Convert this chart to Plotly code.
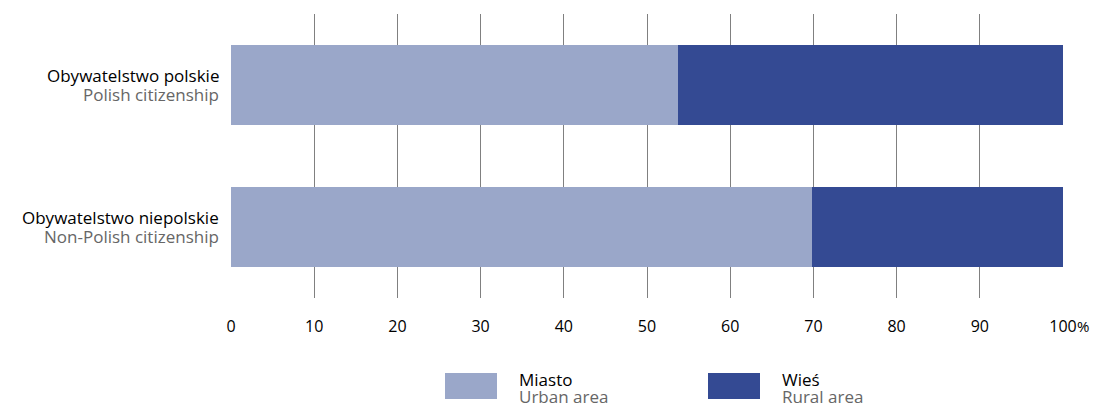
import plotly.graph_objects as go

categories_pl = ["Obywatelstwo polskie", "Obywatelstwo niepolskie"]
categories_en = ["Polish citizenship", "Non-Polish citizenship"]
urban = [53.7, 69.8]
rural = [46.3, 30.2]
series_pl = ["Miasto", "Wieś"]
series_en = ["Urban area", "Rural area"]
colors = ["#9aa7c9", "#344a93"]
x_ticks = [0, 10, 20, 30, 40, 50, 60, 70, 80, 90, 100]
x_ticktext = [str(t) for t in x_ticks]
unit = "%"

FONT = "Open Sans, Noto Sans, sans-serif"
FS = 17
GREY = "#666666"

fig = go.Figure()
for vals, name, col in zip([urban, rural], series_pl, colors):
    fig.add_trace(go.Bar(
        y=categories_pl, x=vals, orientation="h", name=name,
        marker=dict(color=col, line=dict(width=0)),
        width=0.57, showlegend=False, hoverinfo="x+name"))

# page body has an 8px offset; compensate in margins
fig.update_layout(
    barmode="stack",
    width=1098, height=403,
    margin=dict(l=223, r=43, t=6, b=113),
    paper_bgcolor="white", plot_bgcolor="white",
    font=dict(family=FONT, size=FS, color="#000000"),
    xaxis=dict(range=[0, 100], tickvals=x_ticks, ticktext=x_ticktext,
               showgrid=True, gridcolor="#808080", gridwidth=1,
               zeroline=False, showline=False, ticks="",
               ticklabelstandoff=17,
               tickfont=dict(family=FONT, size=16, color="#000000")),
    yaxis=dict(autorange="reversed", showgrid=False, zeroline=False,
               showline=False, ticks="", showticklabels=False),
)

# bilingual category labels
for pl, en in zip(categories_pl, categories_en):
    fig.add_annotation(xref="paper", yref="y", x=0, y=pl, xshift=-10, yshift=9.5,
                       xanchor="right", yanchor="middle", showarrow=False,
                       text=pl, font=dict(family=FONT, size=FS, color="#000000"))
    fig.add_annotation(xref="paper", yref="y", x=0, y=pl, xshift=-10, yshift=-9.5,
                       xanchor="right", yanchor="middle", showarrow=False,
                       text=en, font=dict(family=FONT, size=FS, color=GREY))

# unit after last tick
fig.add_annotation(xref="x", yref="paper", x=x_ticks[-1], y=0, xshift=12, yshift=-28,
                   xanchor="left", yanchor="middle", showarrow=False,
                   text=unit, font=dict(family=FONT, size=15, color="#000000"))

# custom legend (large swatches with bilingual labels)
leg_x = [445, 708]
for i in range(2):
    x0 = leg_x[i]
    fig.add_shape(type="rect", xref="paper", yref="paper",
                  x0=(x0 - 231) / 832, x1=(x0 + 52 - 231) / 832,
                  y0=(298 - 399) / 284, y1=(298 - 373) / 284,
                  fillcolor=colors[i], line=dict(width=0))
    fig.add_annotation(xref="paper", yref="paper",
                       x=(x0 + 72 - 231) / 832, y=(298 - 379) / 284,
                       xanchor="left", yanchor="middle", showarrow=False,
                       text=series_pl[i], font=dict(family=FONT, size=FS, color="#000000"))
    fig.add_annotation(xref="paper", yref="paper",
                       x=(x0 + 72 - 231) / 832, y=(298 - 397) / 284,
                       xanchor="left", yanchor="middle", showarrow=False,
                       text=series_en[i], font=dict(family=FONT, size=FS, color=GREY))

fig.write_html("out.html")
